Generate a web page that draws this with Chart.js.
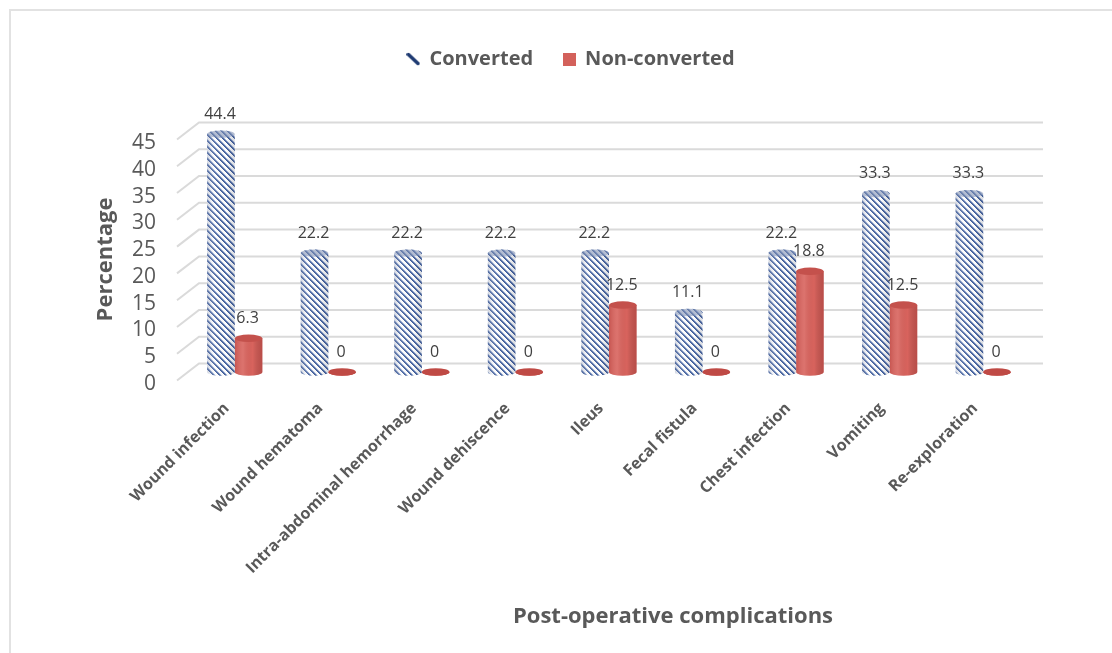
<!DOCTYPE html>
<html>
<head>
<meta charset="utf-8">
<script src="https://cdn.jsdelivr.net/npm/chart.js@4.4.1/dist/chart.umd.min.js"></script>
<style>
  html, body { margin: 0; padding: 0; background: #ffffff; }
  #wrap { width: 1112px; height: 653px; }
</style>
</head>
<body>
<div id="wrap"><canvas id="chart" width="1112" height="653"></canvas></div>
<script>
// Post-operative complications by group (%)
const categories = [
  'Wound infection',
  'Wound hematoma',
  'Intra-abdominal hemorrhage',
  'Wound dehiscence',
  'Ileus',
  'Fecal fistula',
  'Chest infection',
  'Vomiting',
  'Re-exploration'
];
const convertedValues = [44.4, 22.2, 22.2, 22.2, 22.2, 11.1, 22.2, 33.3, 33.3];
const nonConvertedValues = [6.3, 0, 0, 0, 12.5, 0, 18.8, 12.5, 0];
const seriesNames = ['Converted', 'Non-converted'];
const yTickValues = [0, 5, 10, 15, 20, 25, 30, 35, 40, 45];
const xTitle = 'Post-operative complications';
const yTitle = 'Percentage';

const FONT = "'Open Sans', 'Noto Sans', sans-serif";
const TEXT_GRAY = '#595959';

// Diagonal blue hatch used for the "Converted" cylinders
function makeHatchPattern() {
  const s = 6;
  const c = document.createElement('canvas');
  c.width = s; c.height = s;
  const g = c.getContext('2d');
  const img = g.createImageData(s, s);
  for (let y = 0; y < s; y++) {
    for (let x = 0; x < s; x++) {
      const k = (((x - y) % s) + s) % s;
      let col;
      if (k === 0) col = [64, 94, 156];
      else if (k === 1) col = [84, 112, 170];
      else if (k === 2) col = [170, 186, 216];
      else col = [255, 255, 255];
      const i = (y * s + x) * 4;
      img.data[i] = col[0]; img.data[i + 1] = col[1]; img.data[i + 2] = col[2]; img.data[i + 3] = 255;
    }
  }
  g.putImageData(img, 0, 0);
  return g.createPattern(c, 'repeat');
}
const hatch = makeHatchPattern();
const RED = '#d8635d';
const RED_CAP = '#c4514c';

// Legend icons
function slashIcon() {
  const c = document.createElement('canvas');
  c.width = 14; c.height = 14;
  const g = c.getContext('2d');
  g.strokeStyle = '#1f3b72';
  g.lineWidth = 3.5;
  g.lineCap = 'round';
  g.beginPath(); g.moveTo(2, 2.5); g.lineTo(11.5, 11.5); g.stroke();
  return c;
}
function squareIcon() {
  const c = document.createElement('canvas');
  c.width = 13; c.height = 13;
  const g = c.getContext('2d');
  g.fillStyle = '#d3615b';
  g.fillRect(0, 0, 13, 13);
  return c;
}
const legendIcons = [slashIcon(), squareIcon()];

// Frame lines around the figure
const framePlugin = {
  id: 'frame',
  beforeDraw(chart) {
    const ctx = chart.ctx;
    ctx.save();
    ctx.fillStyle = '#ffffff';
    ctx.fillRect(0, 0, chart.width, chart.height);
    ctx.strokeStyle = '#e2e2e2';
    ctx.lineWidth = 2;
    ctx.beginPath();
    ctx.moveTo(10, chart.height);
    ctx.lineTo(10, 10);
    ctx.lineTo(chart.width, 10);
    ctx.stroke();
    ctx.restore();
  }
};

// Back-wall gridlines with a receding left wall edge (3-D look)
const DEPTH_X = 11, DEPTH_Y = 8.5;
const wallGridPlugin = {
  id: 'wallGrid',
  beforeDatasetsDraw(chart) {
    const ctx = chart.ctx;
    const ys = chart.scales.y;
    const { left, right } = chart.chartArea;
    ctx.save();
    ctx.strokeStyle = '#dadada';
    ctx.lineWidth = 2;
    ys.ticks.forEach(t => {
      const yp = ys.getPixelForValue(t.value);
      ctx.beginPath();
      ctx.moveTo(left - DEPTH_X, yp + DEPTH_Y);
      ctx.lineTo(left + DEPTH_X, yp - DEPTH_Y);
      ctx.lineTo(right + DEPTH_X + 2, yp - DEPTH_Y);
      ctx.stroke();
    });
    ctx.restore();
  }
};

// Turns each bar into a cylinder: bottom rim, side shading, top cap, value label
const cylinderPlugin = {
  id: 'cylinders',
  afterDatasetsDraw(chart) {
    const ctx = chart.ctx;
    chart.data.datasets.forEach((ds, di) => {
      const meta = chart.getDatasetMeta(di);
      meta.data.forEach((bar, i) => {
        const p = bar.getProps(['x', 'y', 'base', 'width'], true);
        const r = p.width / 2;
        const ry = r * 0.27;
        const x0 = p.x - r;
        ctx.save();
        // bottom rim
        ctx.beginPath();
        ctx.ellipse(p.x, p.base, r, ry, 0, 0, Math.PI);
        ctx.fillStyle = di === 0 ? hatch : RED;
        ctx.fill();
        // side shading
        ctx.beginPath();
        ctx.moveTo(x0, p.y);
        ctx.lineTo(x0 + 2 * r, p.y);
        ctx.lineTo(x0 + 2 * r, p.base);
        ctx.ellipse(p.x, p.base, r, ry, 0, 0, Math.PI);
        ctx.closePath();
        const gr = ctx.createLinearGradient(x0, 0, x0 + 2 * r, 0);
        if (di === 0) {
          gr.addColorStop(0, 'rgba(110,125,160,0.35)');
          gr.addColorStop(0.3, 'rgba(255,255,255,0.08)');
          gr.addColorStop(0.7, 'rgba(0,0,0,0)');
          gr.addColorStop(1, 'rgba(60,75,110,0.2)');
        } else {
          gr.addColorStop(0, 'rgba(120,20,20,0.18)');
          gr.addColorStop(0.3, 'rgba(255,255,255,0.10)');
          gr.addColorStop(0.65, 'rgba(0,0,0,0)');
          gr.addColorStop(1, 'rgba(110,20,20,0.28)');
        }
        ctx.fillStyle = gr;
        ctx.fill();
        // top cap
        ctx.beginPath();
        ctx.ellipse(p.x, p.y, r, ry, 0, 0, Math.PI * 2);
        if (di === 0) {
          ctx.fillStyle = hatch;
          ctx.fill();
          ctx.fillStyle = 'rgba(128,145,180,0.6)';
          ctx.fill();
        } else {
          ctx.fillStyle = p.y === p.base ? '#bf4a45' : RED_CAP;
          ctx.fill();
        }
        ctx.restore();

        // value label
        const v = ds.data[i];
        ctx.save();
        ctx.font = '16px ' + FONT;
        ctx.fillStyle = '#404040';
        ctx.textAlign = 'center';
        ctx.textBaseline = 'middle';
        ctx.fillText(String(v), p.x - 1, p.y - 20);
        ctx.restore();
      });
    });
  }
};

// Axis titles
const axisTitlePlugin = {
  id: 'axisTitles',
  afterDraw(chart) {
    const ctx = chart.ctx;
    const { left, right, top, bottom } = chart.chartArea;
    ctx.save();
    ctx.fillStyle = TEXT_GRAY;
    ctx.font = 'bold 22px ' + FONT;
    ctx.textAlign = 'center';
    ctx.textBaseline = 'middle';
    ctx.fillText(xTitle, (left + right) / 2 + 64, 617);
    ctx.translate(106, (top + bottom) / 2 + 8);
    ctx.rotate(-Math.PI / 2);
    ctx.fillText(yTitle, 0, 0);
    ctx.restore();
  }
};

// Extra room between the legend and the plot
const legendGap = {
  id: 'legendGap',
  beforeInit(chart) {
    const fit = chart.legend.fit;
    chart.legend.fit = function () {
      fit.call(this);
      this.height += 52;
    };
  }
};

new Chart(document.getElementById('chart'), {
  type: 'bar',
  data: {
    labels: categories,
    datasets: [
      {
        label: seriesNames[0],
        data: convertedValues,
        backgroundColor: hatch,
        borderWidth: 0,
        categoryPercentage: 0.59,
        barPercentage: 1.0
      },
      {
        label: seriesNames[1],
        data: nonConvertedValues,
        backgroundColor: RED,
        borderWidth: 0,
        categoryPercentage: 0.59,
        barPercentage: 1.0
      }
    ]
  },
  options: {
    responsive: false,
    animation: false,
    layout: { padding: { left: 30, right: 0, top: 19, bottom: 0 } },
    scales: {
      x: {
        grid: { display: false, drawTicks: false },
        border: { display: false },
        ticks: {
          autoSkip: false,
          maxRotation: 45,
          minRotation: 45,
          padding: 27,
          labelOffset: -8,
          color: TEXT_GRAY,
          font: { family: FONT, size: 16, weight: 'bold' }
        },
        afterFit(s) { s.height = 281; }
      },
      y: {
        min: yTickValues[0],
        max: yTickValues[yTickValues.length - 1],
        grid: { display: false, drawTicks: false },
        border: { display: false },
        ticks: {
          autoSkip: false,
          padding: 32,
          labelOffset: 12,
          color: TEXT_GRAY,
          font: { family: FONT, size: 21 }
        },
        afterBuildTicks(s) { s.ticks = yTickValues.map(v => ({ value: v })); },
        afterFit(s) { s.width = 158; }
      },
      side: {
        position: 'right',
        grid: { display: false, drawTicks: false },
        border: { display: false },
        ticks: { display: false },
        afterFit(s) { s.width = 82; }
      }
    },
    plugins: {
      tooltip: { enabled: false },
      legend: {
        position: 'top',
        labels: {
          usePointStyle: true,
          boxWidth: 12,
          padding: 30,
          color: TEXT_GRAY,
          font: { family: FONT, size: 20, weight: 'bold' },
          generateLabels: (chart) => chart.data.datasets.map((ds, i) => ({
            text: ds.label,
            fontColor: TEXT_GRAY,
            pointStyle: legendIcons[i],
            fillStyle: 'transparent',
            strokeStyle: 'transparent',
            lineWidth: 0,
            hidden: false,
            datasetIndex: i
          }))
        }
      }
    }
  },
  plugins: [framePlugin, wallGridPlugin, cylinderPlugin, axisTitlePlugin, legendGap]
});
</script>
</body>
</html>
